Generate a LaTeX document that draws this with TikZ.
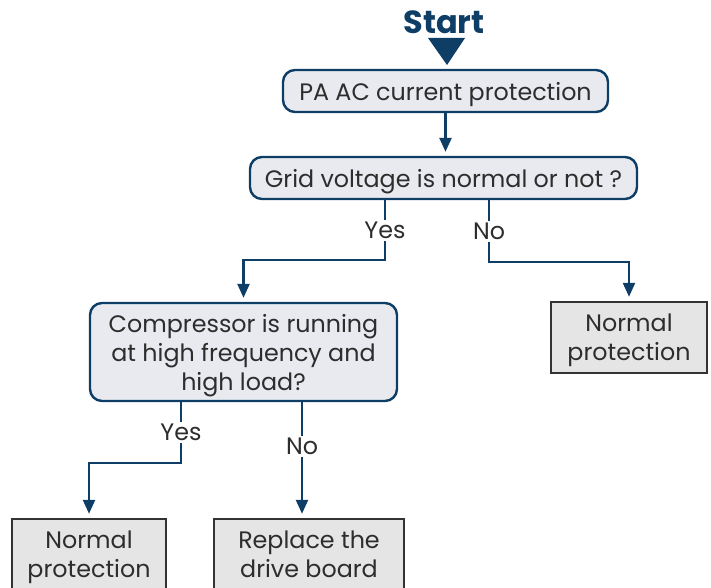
\documentclass[tikz,border=0pt]{standalone}
\usepackage{fontspec}
\setmainfont{Poppins}
\usetikzlibrary{arrows.meta, calc}
\definecolor{flowblue}{RGB}{14,61,101}
\definecolor{boxfill}{RGB}{232,234,240}
\definecolor{endfill}{RGB}{229,229,229}
\definecolor{textgray}{RGB}{45,45,45}

\begin{document}
\begin{tikzpicture}[x=0.5pt, y=-0.5pt,
    check/.style={rectangle, draw=flowblue, fill=boxfill, line width=1.2pt, rounded corners=6pt, text=textgray, align=center, inner sep=0pt, text depth=0pt, font=\fontsize{11.9}{14.5}\selectfont},
    result/.style={rectangle, draw=black!80, fill=endfill, line width=1.2pt, text=textgray, align=center, inner sep=0pt, text depth=0pt, minimum height=35.5pt, font=\fontsize{11.9}{14.5}\selectfont},
    link/.style={draw=flowblue, line width=1.2pt, -{Triangle[width=6pt,length=7pt]}, shorten >=2pt},
    answer/.style={fill=white, text=textgray, inner sep=1pt, font=\fontsize{11.9}{13}\selectfont},
]
    \useasboundingbox (0,0) rectangle (711,588);

    \node[text=flowblue, font=\fontsize{16}{20}\selectfont\bfseries] (start) at (444,22) {Start};
    \fill[flowblue] (428,38) -- (465,38) -- (447,65) -- cycle;

    \node[check, minimum width=162.5pt, minimum height=21pt] (pa) at (445.5,91) {PA AC current protection};
    \node[check, minimum width=193.5pt, minimum height=21pt] (grid) at (443.5,178) {Grid voltage is normal or not ?};
    \node[check, minimum width=153.5pt, minimum height=49pt] (comp) at (243.5,352) {Compressor is running\\at high frequency and\\high load?};
    \node[result, minimum width=78pt] (norm1) at (629,337.5) {Normal\\protection};
    \node[result, minimum width=77pt] (norm2) at (89,554.5) {Normal\\protection};
    \node[result, minimum width=95pt] (drive) at (309,554.5) {Replace the\\drive board};

    \coordinate (compno) at ($(comp.south)+(58.5,0)$);

    \draw[link] (pa.south) -- (pa.south |- grid.north);
    \draw[link] ($(grid.south)+(-58.5,0)$) -- node[answer] {Yes} ++(0,60) -| (comp.north);
    \draw[link] ($(grid.south)+(45.5,0)$) -- node[answer] {No} ++(0,62) -| (norm1.north);
    \draw[link] ($(comp.south)+(-62.5,0)$) -- node[answer] {Yes} ++(0,61) -| (norm2.north);
    \draw[link] (compno) -- node[answer, pos=0.38] {No} (compno |- drive.north);
\end{tikzpicture}
\end{document}
